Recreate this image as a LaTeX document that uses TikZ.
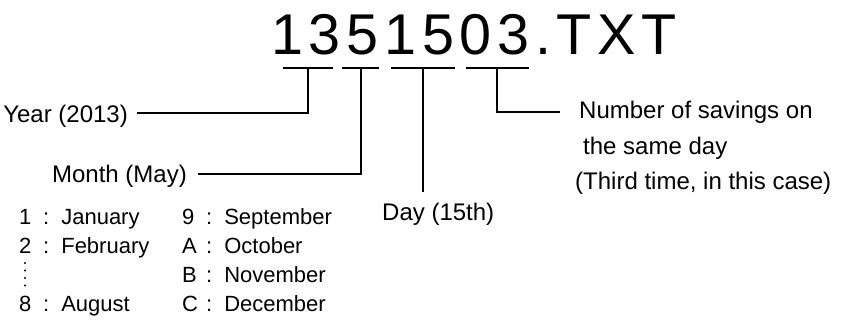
\documentclass[tikz,border=0pt]{standalone}
\usepackage{fontspec}
\setmainfont{Liberation Sans}
\newfontfamily\titlefont[LetterSpace=10]{Liberation Sans}
\newcommand\mrow[2]{\makebox[24pt][l]{#1}:\hspace{12pt}#2}
\begin{document}
\begin{tikzpicture}[x=1pt,y=-1pt,
  conn/.style={line width=2pt},
  lbl/.style={inner sep=0pt, font=\fontsize{24}{28}\selectfont},
  lst/.style={inner sep=0pt, font=\fontsize{22}{26}\selectfont, anchor=base west},
  ttl/.style={inner sep=0pt, anchor=base west, font=\titlefont\fontsize{57.5}{60}\selectfont}]
\useasboundingbox (0,0) rectangle (851,320);
% title
\node[ttl] (title) at (271,55) {1351503.TXT};
% bars under the digits
\coordinate (b1l) at (283,68); \coordinate (b1r) at (333,68); \coordinate (b1) at (308,68);
\coordinate (b2l) at (342,68); \coordinate (b2r) at (379,68); \coordinate (b2) at (361,68);
\coordinate (b3l) at (391,68); \coordinate (b3r) at (455,68); \coordinate (b3) at (423,68);
\coordinate (b4l) at (466,68); \coordinate (b4r) at (529,68); \coordinate (b4) at (497,68);
\draw[conn] (b1l) -- (b1r);
\draw[conn] (b2l) -- (b2r);
\draw[conn] (b3l) -- (b3r);
\draw[conn] (b4l) -- (b4r);
% labels
\node[lbl, anchor=base east] (year) at (128,123) {Year (2013)};
\node[lbl, anchor=base east] (month) at (187,183) {Month (May)};
\node[lbl, anchor=base west] (day) at (382,221) {Day (15th)};
\node[lbl, anchor=base west] (num1) at (579,119) {Number of savings on};
\node[lbl, anchor=base west] (num2) at (583,155) {the same day};
\node[lbl, anchor=base west] (num3) at (575,190) {(Third time, in this case)};
\coordinate (dayend) at (423,192);
% connectors
\draw[conn] (b1) |- ([shift={(9,-10)}]year.base east);
\draw[conn] (b2) |- ([shift={(11,-9)}]month.base east);
\draw[conn] (b3) -- (dayend);
\draw[conn] (b4) |- ([shift={(-19,-7)}]num1.base west);
% month list
\node[lst] (m1) at (19,225) {\mrow{1}{January}};
\node[lst] (m2) at (19,254) {\mrow{2}{February}};
\node[lst] (m8) at (19,312) {\mrow{8}{August}};
\node[lst] (m9) at (182,225) {\mrow{9}{September}};
\node[lst] (mA) at (182,254) {\mrow{A}{October}};
\node[lst] (mB) at (182,283) {\mrow{B}{November}};
\node[lst] (mC) at (182,312) {\mrow{C}{December}};
\foreach \yy in {263,270.5,278,285.5} \fill (25,\yy) circle[radius=1.1pt];
\end{tikzpicture}
\end{document}
